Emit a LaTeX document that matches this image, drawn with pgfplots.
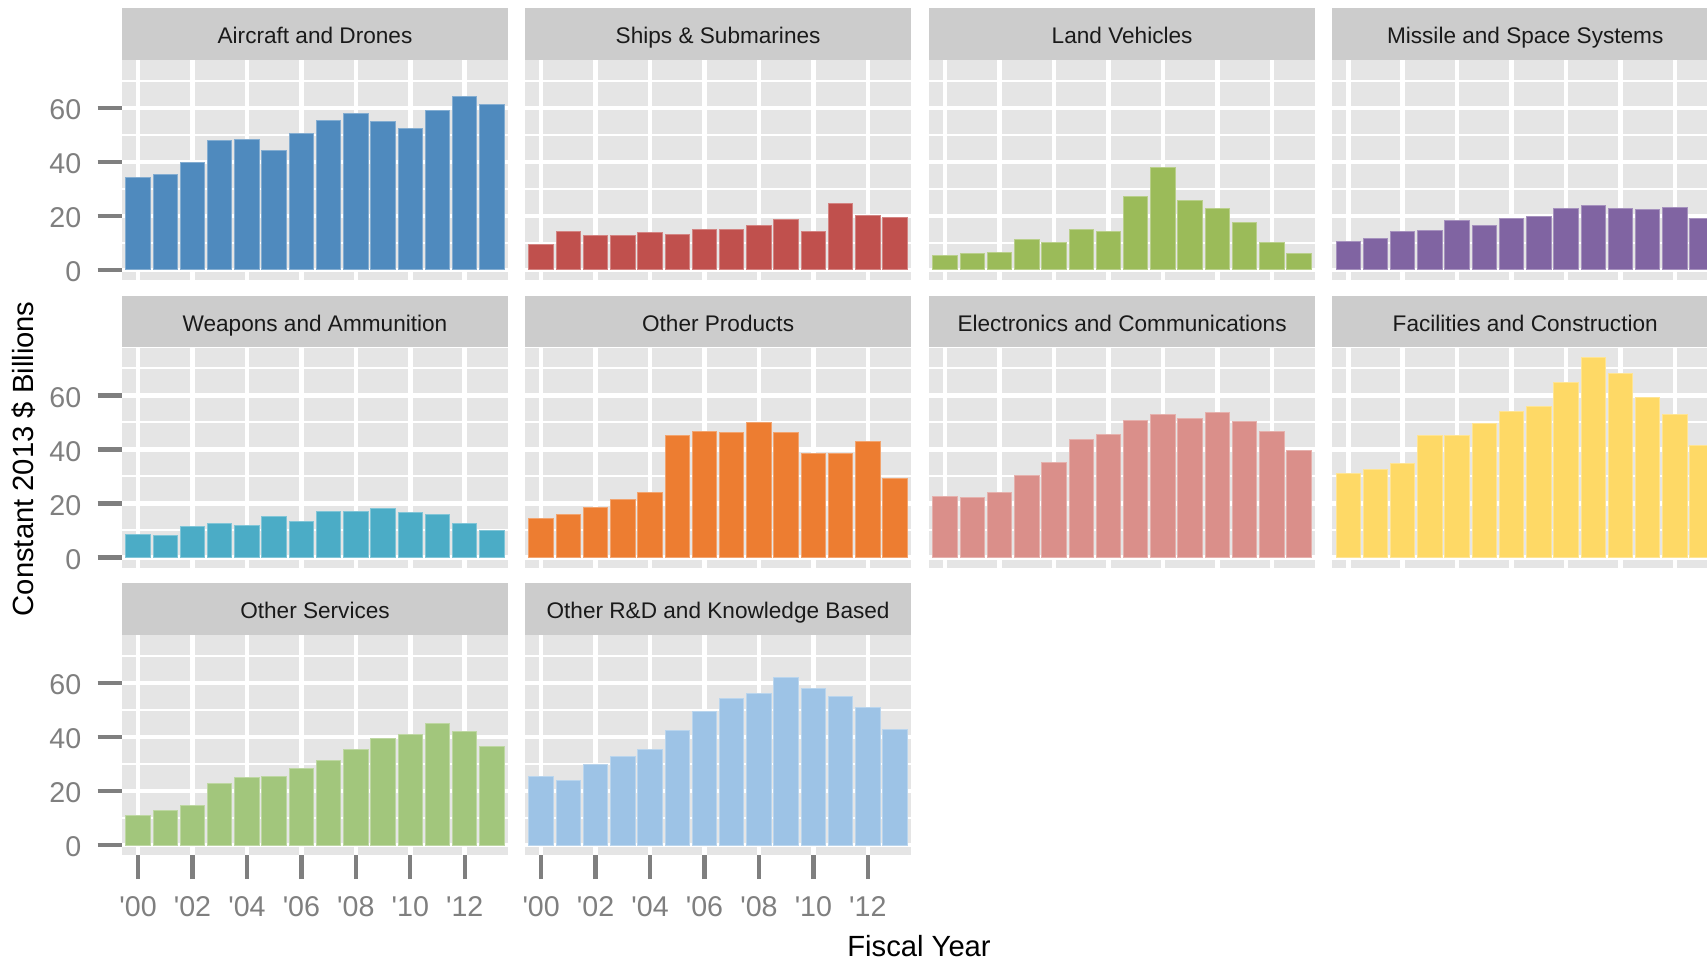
\documentclass[border=0pt]{standalone}
\usepackage{pgfplots}
\pgfplotsset{compat=1.18}
\usepackage{fontspec}
\setmainfont{Liberation Sans}
\definecolor{ggbg}{HTML}{E5E5E5}
\definecolor{ggstrip}{HTML}{CCCCCC}
\definecolor{ggtick}{HTML}{7F7F7F}
\definecolor{ggtext}{HTML}{1A1A1A}
\definecolor{cAir}{HTML}{4F8ABE}
\definecolor{cShip}{HTML}{C0504D}
\definecolor{cLand}{HTML}{9BBB59}
\definecolor{cMiss}{HTML}{8064A2}
\definecolor{cWeap}{HTML}{4BACC6}
\definecolor{cOthP}{HTML}{ED7D31}
\definecolor{cElec}{HTML}{DA8F8A}
\definecolor{cFac}{HTML}{FED966}
\definecolor{cOthS}{HTML}{A2C67C}
\definecolor{cRD}{HTML}{9DC3E6}
\pgfplotsset{
  panel/.style={
    scale only axis, width=193.3pt, height=110pt,
    anchor=south west,
    xmin=-0.6, xmax=13.6, ymin=-3.7, ymax=77.7,
    axis line style={draw=none},
    axis background/.style={fill=ggbg},
    xtick={0,2,...,12}, ytick={0,20,40,60}, minor ytick={10,30,50,70},
    xmajorgrids, ymajorgrids, yminorgrids,
    major grid style={white, line width=2.3pt},
    minor grid style={white, line width=1pt},
    xticklabels={}, yticklabels={},
    tick align=outside, xtick pos=bottom, ytick pos=left,
    major tick length=12pt, minor tick length=0pt,
    tick style={ggtick, line width=2.2pt},
    ybar, bar width=0.9,
    title style={fill=ggstrip, minimum width=193.3pt, minimum height=25.75pt,
      inner sep=0pt, at={(0.5,1)}, anchor=south, yshift=-6pt,
      text height=10.1pt, text depth=0pt,
      font=\fontsize{11.3}{13}\selectfont, text=ggtext},
    ticklabel style={font=\fontsize{14.3}{16}\selectfont, text=ggtick},
    xticklabel style={yshift=-5pt},
    yticklabel style={xshift=-4.7pt, yshift=-1pt},
  },
  noxticks/.style={xtick style={draw=none}},
  noyticks/.style={ytick style={draw=none}},
  xlab/.style={xticklabels={\textquotesingle00,\textquotesingle02,\textquotesingle04,\textquotesingle06,\textquotesingle08,\textquotesingle10,\textquotesingle12}},
  ylab/.style={yticklabels={0,20,40,60}},
  bars/.style={fill=#1, draw=#1!70!white, line width=0.5pt},
}
\begin{document}
\begin{tikzpicture}
\useasboundingbox (0,0) rectangle (853.5pt,480pt);
\clip (0,0) rectangle (853.5pt,480pt);
% Row 1
\begin{axis}[panel, at={(60.85pt,340pt)}, title={Aircraft and Drones}, noxticks, ylab]
\addplot[bars=cAir] coordinates {(0,34.2)(1,35.4)(2,39.8)(3,47.9)(4,48.4)(5,44.3)(6,50.4)(7,55.5)(8,58.0)(9,54.9)(10,52.5)(11,59.0)(12,64.1)(13,61.1)};
\end{axis}
\begin{axis}[panel, at={(262.4pt,340pt)}, title={Ships \& Submarines}, noxticks, noyticks]
\addplot[bars=cShip] coordinates {(0,9.5)(1,14.2)(2,12.6)(3,12.6)(4,13.7)(5,13.1)(6,15.1)(7,15.1)(8,16.6)(9,18.5)(10,14.1)(11,24.6)(12,20.0)(13,19.5)};
\end{axis}
\begin{axis}[panel, at={(464.4pt,340pt)}, title={Land Vehicles}, noxticks, noyticks]
\addplot[bars=cLand] coordinates {(0,5.5)(1,6.0)(2,6.5)(3,11.1)(4,10.1)(5,15.1)(6,14.2)(7,27.1)(8,37.8)(9,25.8)(10,22.7)(11,17.7)(12,10.1)(13,6.0)};
\end{axis}
\begin{axis}[panel, at={(665.95pt,340pt)}, title={Missile and Space Systems}, noxticks, noyticks]
\addplot[bars=cMiss] coordinates {(0,10.6)(1,11.6)(2,14.1)(3,14.6)(4,18.2)(5,16.6)(6,19.2)(7,19.7)(8,22.7)(9,23.7)(10,22.7)(11,22.2)(12,23.2)(13,19.2)};
\end{axis}
% Row 2
\begin{axis}[panel, at={(60.85pt,196.25pt)}, title={Weapons and Ammunition}, noxticks, ylab]
\addplot[bars=cWeap] coordinates {(0,8.5)(1,8.0)(2,11.5)(3,12.5)(4,12.0)(5,15.0)(6,13.5)(7,17.0)(8,17.0)(9,18.1)(10,16.5)(11,16.0)(12,12.5)(13,9.9)};
\end{axis}
\begin{axis}[panel, at={(262.4pt,196.25pt)}, title={Other Products}, noxticks, noyticks]
\addplot[bars=cOthP] coordinates {(0,14.5)(1,16.0)(2,18.6)(3,21.6)(4,24.1)(5,45.1)(6,46.6)(7,46.1)(8,50.1)(9,46.1)(10,38.5)(11,38.5)(12,43.1)(13,29.2)};
\end{axis}
\begin{axis}[panel, at={(464.4pt,196.25pt)}, title={Electronics and Communications}, noxticks, noyticks]
\addplot[bars=cElec] coordinates {(0,22.6)(1,22.1)(2,24.1)(3,30.2)(4,35.0)(5,43.5)(6,45.6)(7,50.8)(8,52.8)(9,51.6)(10,53.8)(11,50.2)(12,46.6)(13,39.5)};
\end{axis}
\begin{axis}[panel, at={(665.95pt,196.25pt)}, title={Facilities and Construction}, noxticks, noyticks]
\addplot[bars=cFac] coordinates {(0,30.9)(1,32.4)(2,34.9)(3,45.0)(4,45.0)(5,49.6)(6,54.1)(7,55.8)(8,64.9)(9,74.0)(10,67.9)(11,59.3)(12,52.8)(13,41.5)};
\end{axis}
% Row 3
\begin{axis}[panel, at={(60.85pt,52.5pt)}, title={Other Services}, xlab, ylab]
\addplot[bars=cOthS] coordinates {(0,10.8)(1,12.9)(2,14.8)(3,22.9)(4,24.9)(5,25.4)(6,28.3)(7,31.4)(8,35.4)(9,39.5)(10,40.9)(11,44.9)(12,41.9)(13,36.5)};
\end{axis}
\begin{axis}[panel, at={(262.4pt,52.5pt)}, title={Other R\&D and Knowledge Based}, xlab, noyticks]
\addplot[bars=cRD] coordinates {(0,25.4)(1,23.9)(2,29.9)(3,32.9)(4,35.4)(5,42.4)(6,49.5)(7,54.1)(8,56.0)(9,62.0)(10,58.0)(11,55.1)(12,51.0)(13,42.9)};
\end{axis}
\node[rotate=90, anchor=base, font=\fontsize{14.6}{17}\selectfont] at (16.7pt,250.6pt) {Constant 2013 \$ Billions};
\node[anchor=base, font=\fontsize{14.6}{17}\selectfont] at (459.5pt,2pt) {Fiscal Year};
\end{tikzpicture}
\end{document}
